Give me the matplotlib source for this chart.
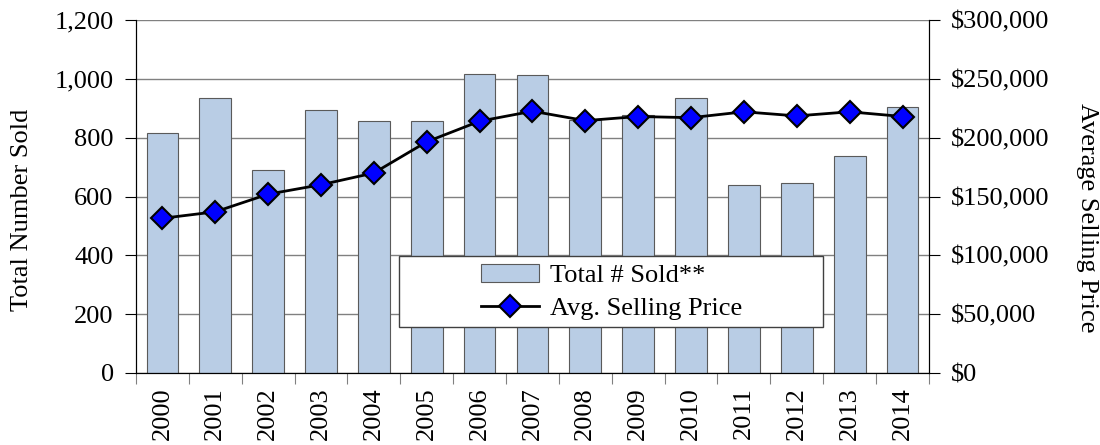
import numpy as np
import matplotlib
matplotlib.use("Agg")
import matplotlib.pyplot as plt
from matplotlib.ticker import FuncFormatter
from matplotlib.patches import Rectangle

plt.rcParams['font.family'] = ['Liberation Serif', 'DejaVu Serif']

# data
years = ['2000', '2001', '2002', '2003', '2004', '2005', '2006', '2007',
         '2008', '2009', '2010', '2011', '2012', '2013', '2014']
total_sold = [816, 935, 690, 894, 856, 856, 1018, 1012,
              860, 877, 936, 639, 646, 738, 905]
avg_price = [131500, 137000, 152000, 160000, 170000, 196500, 214000, 222500,
             214500, 218000, 217000, 222000, 218500, 222000, 218000]

FS = 19
x = np.arange(len(years))

fig = plt.figure(figsize=(11, 4.45), dpi=100)
ax = fig.add_axes([0.1236, 0.1618, 0.7209, 0.7932])
ax2 = ax.twinx()

bars = ax.bar(x, total_sold, width=0.6, color='#B9CDE5', edgecolor='#5a5a5a',
              linewidth=0.8, zorder=2, label='Total # Sold**')
line, = ax2.plot(x, avg_price, color='black', lw=2, marker='D', markersize=11,
                 markerfacecolor='#0000FF', markeredgecolor='black',
                 markeredgewidth=1.5, label='Avg. Selling Price', zorder=3)

ax.set_xlim(-0.5, len(years) - 0.5)
ax.set_ylim(0, 1200)
ax.set_yticks(np.arange(0, 1201, 200))
ax.yaxis.set_major_formatter(FuncFormatter(lambda v, p: f'{int(v):,}'))
ax.grid(axis='y', color='#808080', lw=1, zorder=0)
ax.set_axisbelow(True)

ax2.set_ylim(0, 300000)
ax2.set_yticks(np.arange(0, 300001, 50000))
ax2.yaxis.set_major_formatter(FuncFormatter(lambda v, p: f'${int(v):,}'))

# category boundary ticks, labels in the middle
ax.set_xticks(np.arange(-0.5, len(years), 1))
ax.set_xticklabels([])
ax.set_xticks(x, minor=True)
ax.set_xticklabels(years, minor=True, rotation=90, fontsize=FS)
ax.tick_params(axis='x', which='major', length=8, color='#808080', direction='out')
ax.tick_params(axis='x', which='minor', length=0, pad=10)

ax.tick_params(axis='y', length=8, direction='out', labelsize=FS, color='black', pad=8)
ax2.tick_params(axis='y', length=8, direction='out', labelsize=FS, color='black', pad=8)

for a in (ax, ax2):
    a.spines['top'].set_visible(False)
    a.spines['left'].set_color('black')
    a.spines['right'].set_color('black')
    a.spines['bottom'].set_color('black')

ax.set_ylabel('Total Number Sold', fontsize=FS, va='center')
ax.yaxis.set_label_coords(-0.144, 0.462)
ax2.set_ylabel('Average Selling Price', fontsize=FS, rotation=270, va='center')
ax2.yaxis.set_label_coords(1.199, 0.44)

# legend box with centred entries
frame = Rectangle((0.332, 0.13), 0.535, 0.201, transform=ax2.transAxes,
                  facecolor='white', edgecolor='#404040', lw=1, zorder=4)
ax2.add_patch(frame)
leg = ax2.legend([bars, line], ['Total # Sold**', 'Avg. Selling Price'],
                 loc='center', bbox_to_anchor=(0.5995, 0.23), fontsize=FS,
                 frameon=False, handlelength=2.2, handletextpad=0.4,
                 borderpad=0.0, labelspacing=0.35)
leg.set_zorder(5)

fig.savefig('out.png', dpi=100)
